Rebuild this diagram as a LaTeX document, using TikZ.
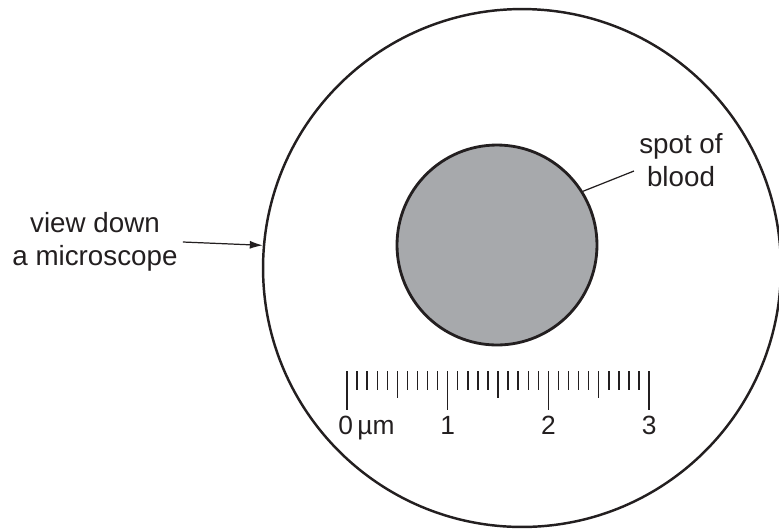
\documentclass[tikz,border=0pt]{standalone}
\usepackage{fontspec}
\setmainfont{Liberation Sans}
\usetikzlibrary{arrows.meta,positioning,calc}
\definecolor{ink}{HTML}{231F20}
\definecolor{blood}{HTML}{A7A9AC}
\tikzset{
  lbl/.style={
    align=center, inner sep=0pt, text=ink,
    font=\fontsize{15.8}{18.8}\selectfont
  },
  num/.style={inner sep=0pt, text=ink, font=\fontsize{15}{18}\selectfont},
  arrow/.style={-{Latex[length=2.6mm,width=1.6mm]}, draw=ink, line width=0.7pt},
  leader/.style={draw=ink, line width=0.7pt},
  tickmark/.style={draw=ink, line width=0.8pt}
}

\begin{document}
\begin{tikzpicture}[x=0.02cm, y=-0.02cm]
    \useasboundingbox (0,0) rectangle (779,529);
    \node[circle, draw=ink, line width=1.4pt, minimum size=10.36cm, inner sep=0pt] (view) at (522,268) {};
    \node[circle, draw=ink, fill=blood, line width=1.6pt, minimum size=4cm, inner sep=0pt] (spot) at (497,245) {};
    % labels
    \node[lbl] (viewlbl) at (95,242) {view down\\a microscope};
    \node[lbl] (spotlbl) at (681,160) {spot of\\blood};
    \draw[arrow] ([xshift=0.1cm]viewlbl.east) -- (view.175);
    \draw[leader] (spot.32) -- ([shift={(-5,11)}]spotlbl.west);
    % scale
    \coordinate (zero) at (347,371);
    \foreach \i in {0,...,30}{
      \pgfmathsetmacro\len{mod(\i,10)==0 ? 39 : (mod(\i,5)==0 ? 27 : 19)}
      \draw[tickmark] ($(zero)+(\i*10.07,0)$) -- ++(0,\len);
    }
    \node[num, anchor=base west] (nought) at ($(zero)+(-9,63)$) {0\,µm};
    \node[num, anchor=base] (one) at ($(zero)+(100.7,63)$) {1};
    \node[num, anchor=base] (two) at ($(zero)+(201.4,63)$) {2};
    \node[num, anchor=base] (three) at ($(zero)+(302.1,63)$) {3};
  \end{tikzpicture}
\end{document}
